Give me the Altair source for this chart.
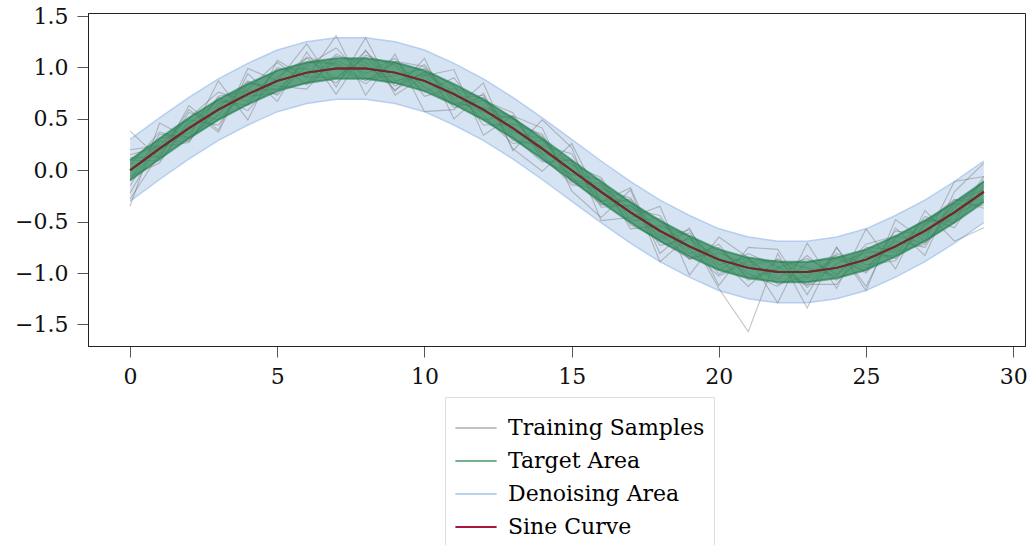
import altair as alt
import pandas as pd

FONT = "DejaVu Serif"

x_vals = list(range(30))
sine_vals = [0.00, 0.21, 0.41, 0.59, 0.74, 0.87, 0.95, 0.99, 0.99, 0.95,
             0.87, 0.74, 0.59, 0.41, 0.21, 0.00, -0.21, -0.41, -0.59, -0.74,
             -0.87, -0.95, -0.99, -0.99, -0.95, -0.87, -0.74, -0.59, -0.41, -0.21]
target_half_width = 0.1
denoise_half_width = 0.3

sample_a = [0.12, 0.13, 0.56, 0.49, 0.79, 1.05, 0.83, 1.07, 0.94, 1.09, 0.72, 0.80, 0.69, 0.29, 0.24,
            0.16, -0.30, -0.30, -0.73, -0.67, -0.85, -1.13, -0.86, -1.05, -0.86, -0.98, -0.59, -0.63, -0.33, -0.34]
sample_b = [-0.15, 0.31, 0.36, 0.71, 0.58, 0.91, 1.09, 0.89, 1.16, 0.87, 0.93, 0.61, 0.68, 0.56, 0.10,
            -0.04, -0.09, -0.57, -0.54, -0.64, -1.01, -0.87, -1.06, -0.83, -1.07, -0.84, -0.83, -0.45, -0.56, -0.15]
sample_c = [0.05, 0.37, 0.29, 0.61, 0.87, 0.73, 1.02, 1.19, 0.89, 0.92, 0.99, 0.82, 0.44, 0.45, 0.35,
            -0.12, -0.15, -0.38, -0.44, -0.87, -0.76, -1.01, -1.13, -0.90, -0.83, -0.95, -0.69, -0.75, -0.30, -0.19]
sample_d = [-0.06, 0.07, 0.49, 0.44, 0.84, 0.82, 0.79, 1.11, 1.05, 0.78, 0.96, 0.70, 0.73, 0.33, 0.08,
            0.10, -0.36, -0.34, -0.65, -0.58, -0.97, -0.81, -0.94, -1.11, -1.11, -0.75, -0.77, -0.50, -0.48, -0.06]
sample_e = [0.20, 0.24, 0.51, 0.76, 0.67, 0.98, 0.99, 0.85, 1.12, 1.02, 0.76, 0.90, 0.53, 0.26, 0.29,
            0.05, -0.07, -0.49, -0.47, -0.77, -1.03, -0.89, -0.88, -0.95, -1.03, -0.72, -0.64, -0.71, -0.43, -0.30]
sample_f = [-0.22, 0.28, 0.28, 0.65, 0.72, 0.75, 1.10, 1.02, 0.84, 1.06, 1.01, 0.65, 0.61, 0.52, 0.15,
            -0.14, -0.18, -0.27, -0.69, -0.86, -0.72, -1.07, -0.97, -1.12, -0.81, -0.92, -0.88, -0.52, -0.28, -0.37]
sample_g = [0.38, 0.11, 0.63, 0.39, 0.99, 0.87, 1.23, 0.81, 1.29, 0.73, 0.92, 0.98, 0.34, 0.53, 0.41,
            -0.20, -0.46, -0.19, -0.89, -0.64, -1.15, -1.57, -0.81, -1.34, -0.75, -1.17, -0.48, -0.69, -0.11, -0.06]
sample_h = [-0.35, 0.46, 0.31, 0.87, 0.49, 1.07, 0.90, 1.31, 0.73, 1.13, 0.57, 0.59, 0.85, 0.19, 0.49,
            0.22, -0.49, -0.46, -0.35, -1.02, -0.65, -0.85, -1.29, -0.71, -1.15, -0.57, -0.96, -0.39, -0.69, -0.56]
sample_i = [0.10, 0.09, 0.45, 0.68, 0.63, 1.00, 0.91, 0.90, 1.10, 0.82, 0.95, 0.76, 0.49, 0.53, 0.16,
            0.09, -0.33, -0.35, -0.49, -0.81, -0.75, -1.05, -0.95, -0.86, -1.01, -0.77, -0.86, -0.54, -0.29, -0.29]
sample_j = [-0.10, 0.35, 0.32, 0.54, 0.86, 0.78, 1.05, 1.04, 0.87, 1.05, 0.81, 0.64, 0.71, 0.37, 0.31,
            -0.10, -0.13, -0.53, -0.67, -0.61, -0.92, -0.85, -1.11, -1.03, -0.84, -1.00, -0.66, -0.48, -0.51, -0.09]
sample_k = [0.15, 0.23, 0.27, 0.72, 0.77, 0.79, 0.85, 1.13, 1.01, 0.85, 1.03, 0.68, 0.57, 0.50, 0.33,
            -0.07, -0.34, -0.28, -0.62, -0.86, -0.80, -0.93, -0.87, -1.14, -0.91, -0.80, -0.79, -0.72, -0.36, -0.11]
sample_l = [-0.28, 0.16, 0.59, 0.37, 0.94, 0.67, 1.15, 0.74, 1.17, 0.77, 1.09, 0.50, 0.75, 0.21, -0.01,
            0.26, -0.31, -0.17, -0.81, -0.56, -1.12, -0.75, -0.77, -1.21, -0.75, -1.13, -0.56, -0.83, -0.21, 0.07]
samples = [sample_a, sample_b, sample_c, sample_d, sample_e, sample_f,
           sample_g, sample_h, sample_i, sample_j, sample_k, sample_l]

series_names = ["Training Samples", "Target Area", "Denoising Area", "Sine Curve"]
series_colors = ["#707070", "#1f7d4c", "#a9c6ec", "#a8173d"]
series_opacity = [0.42, 1.0, 1.0, 1.0]

x_ticks = [0, 5, 10, 15, 20, 25, 30]
y_ticks = [-1.5, -1.0, -0.5, 0.0, 0.5, 1.0, 1.5]

# tables
base_df = pd.DataFrame({"x": x_vals, "y": sine_vals})
rows = []
for k, s in enumerate(samples):
    for xi, yi in zip(x_vals, s):
        rows.append({"x": xi, "y": yi, "sample": k, "series": "Training Samples"})
samples_df = pd.DataFrame(rows)

xs = alt.X("x:Q", scale=alt.Scale(domain=[-1.43, 30.4], nice=False, zero=False),
           axis=alt.Axis(values=x_ticks, format="d", title=None))
y_scale = alt.Scale(domain=[-1.71, 1.53], nice=False, zero=False)
y_axis = alt.Axis(values=y_ticks, format=".1f", title=None)

color_enc = alt.Color("series:N", scale=alt.Scale(domain=series_names, range=series_colors),
                      legend=alt.Legend(title=None, orient="none", legendX=357, legendY=384,
                                        direction="vertical", symbolType="stroke",
                                        symbolSize=1700, symbolStrokeWidth=2,
                                        labelFont=FONT, labelFontSize=22, labelLimit=400,
                                        labelOffset=10, strokeColor="#dddddd", fillColor="white",
                                        padding=9, rowPadding=0))
opacity_enc = alt.Opacity("series:N", scale=alt.Scale(domain=series_names, range=series_opacity),
                          legend=None)

band = alt.Chart(base_df).transform_calculate(
    d_lo=f"datum.y - {denoise_half_width}", d_hi=f"datum.y + {denoise_half_width}",
    t_lo=f"datum.y - {target_half_width}", t_hi=f"datum.y + {target_half_width}",
)

denoise_area = band.mark_area(color="#aec7e8", opacity=0.5).encode(
    x=xs, y=alt.Y("d_lo:Q", scale=y_scale, axis=y_axis), y2="d_hi:Q")

edges = band.transform_fold(["d_lo", "d_hi", "t_lo", "t_hi"], as_=["edge", "val"]).transform_calculate(
    series="indexof(datum.edge, 'd_') == 0 ? 'Denoising Area' : 'Target Area'"
)

denoise_edges = edges.transform_filter("datum.series == 'Denoising Area'").mark_line(strokeWidth=1.5).encode(
    x=xs, y=alt.Y("val:Q"), detail="edge:N", color=color_enc, opacity=opacity_enc)

sample_lines = alt.Chart(samples_df).mark_line(strokeWidth=1.1).encode(
    x=xs, y=alt.Y("y:Q"), detail="sample:N", color=color_enc, opacity=opacity_enc)

target_area = band.mark_area(color="#2e8b57", opacity=0.72).encode(
    x=xs, y=alt.Y("t_lo:Q"), y2="t_hi:Q")

target_edges = edges.transform_filter("datum.series == 'Target Area'").mark_line(strokeWidth=2).encode(
    x=xs, y=alt.Y("val:Q"), detail="edge:N", color=color_enc, opacity=opacity_enc)

sine_line = alt.Chart(base_df).transform_calculate(series="'Sine Curve'").mark_line(strokeWidth=2).encode(
    x=xs, y=alt.Y("y:Q"), color=color_enc, opacity=opacity_enc)

sine_shade = alt.Chart(base_df).mark_line(strokeWidth=2, color="#6b2c2c").encode(
    x=xs, y=alt.Y("y:Q"))

chart = alt.layer(
    denoise_area, denoise_edges, sample_lines, target_area, target_edges, sine_line, sine_shade
).properties(
    width=937, height=333,
    autosize=alt.AutoSizeParams(type="none"),
    padding={"left": 88, "top": 13, "right": 2, "bottom": 200},
).configure_view(
    stroke="#222222", strokeWidth=1
).configure_axis(
    grid=False, labelFont=FONT, labelFontSize=22, labelColor="#111111",
    domainColor="#222222", tickColor="#555555", tickSize=11, labelPadding=9
).configure_axisX(labelAngle=0)

chart.save("out.html", embed_options={"renderer": "svg", "actions": False})
